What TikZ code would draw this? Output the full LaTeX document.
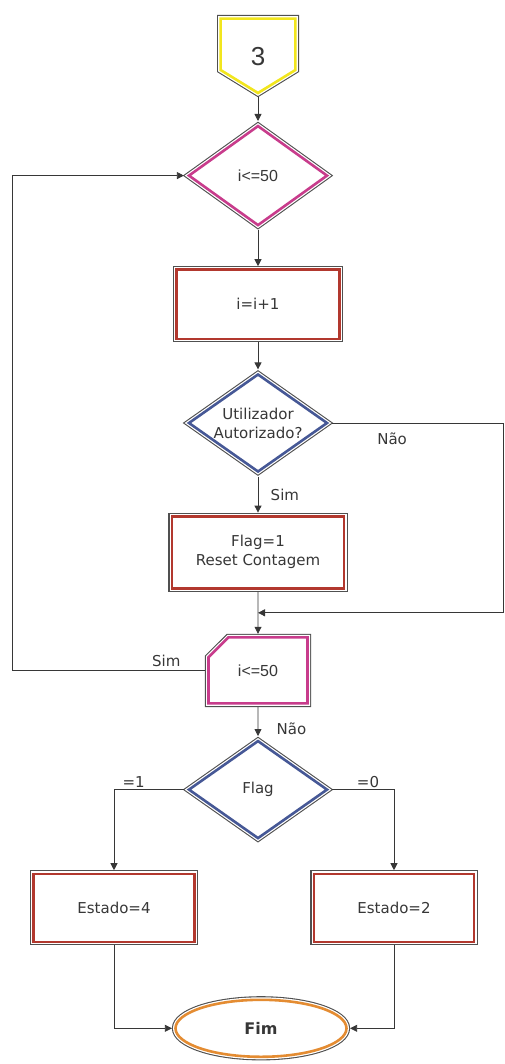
\documentclass[tikz,border=0pt]{standalone}
\usepackage{fontspec}
\setmainfont{DejaVu Sans}
\newfontfamily\arialfont{Liberation Sans}
\usetikzlibrary{arrows.meta, shapes.geometric, shapes.misc, positioning, calc}
\definecolor{fcyellow}{RGB}{242,230,30}
\definecolor{fcmagenta}{RGB}{200,60,140}
\definecolor{fcred}{RGB}{178,56,46}
\definecolor{fcblue}{RGB}{70,88,150}
\definecolor{fcorange}{RGB}{228,140,50}
\definecolor{fcedge}{RGB}{80,80,80}
\definecolor{fcline}{RGB}{55,55,55}

\begin{document}
\begin{tikzpicture}[
  x=1pt, y=1pt,
  twoline/.style={preaction={draw=fcedge, line width=7.2pt},
                  preaction={draw=white, line width=5.0pt},
                  fill=white, line width=2.6pt, outer sep=3.6pt, text=fcline},
  proc/.style={twoline, draw=fcred, rectangle, align=center, inner sep=0pt,
               font=\fontsize{15}{19}\selectfont},
  cond/.style={twoline, draw=fcblue, diamond, aspect=1.41, inner sep=0pt,
               minimum width=141pt, minimum height=100pt, align=center,
               font=\fontsize{15}{19}\selectfont},
  loopcond/.style={cond, draw=fcmagenta, minimum height=102pt,
                   font=\arialfont\fontsize{16}{16}\selectfont},
  lim/.style={twoline, draw=fcmagenta, chamfered rectangle,
              chamfered rectangle corners=north west,
              chamfered rectangle xsep=14pt, chamfered rectangle ysep=14pt,
              minimum width=99pt, minimum height=66pt, inner sep=0pt,
              font=\arialfont\fontsize{16}{16}\selectfont},
  term/.style={twoline, draw=fcorange, ellipse, inner sep=0pt,
               minimum width=171pt, minimum height=57pt,
               font=\bfseries\fontsize{16}{16}\selectfont},
  lbl/.style={font=\fontsize{15}{18}\selectfont, text=fcline},
  arr/.style={-{Triangle[length=7pt,width=7pt]}, line width=0.8pt, draw=fcline}
]
\useasboundingbox (0,0) rectangle (504,-1064);
\coordinate (startc) at (258,-57);
\draw[twoline, draw=fcyellow] ($(startc)+(-37.4,38.4)$) -- ($(startc)+(37.4,38.4)$)
  -- ($(startc)+(37.4,-13)$) -- ($(startc)+(0,-36)$) -- ($(startc)+(-37.4,-13)$) -- cycle;
\node[text=fcline, font=\arialfont\fontsize{26}{26}\selectfont] (start) at (startc) {3};
\coordinate (tip) at ($(startc)+(0,-40)$);
\node[loopcond, below=24pt of tip] (dec1) {i<=50};
\node[proc, below=36pt of dec1, minimum width=163pt, minimum height=69pt] (inc) {i=i+1};
\node[cond, below=27pt of inc] (auth) {Utilizador\\Autorizado?};
\node[proc, below=36pt of auth, minimum width=172pt, minimum height=72pt] (flag1) {Flag=1\\Reset Contagem};
\node[lim, below=42pt of flag1] (loop) {i<=50};
\node[cond, below=29pt of loop] (flagdec) {Flag};
\node[proc, below=27pt of flagdec, xshift=-144pt, minimum width=161pt, minimum height=68pt] (est4) {Estado=4};
\node[proc, below=27pt of flagdec, xshift=136pt, minimum width=160pt, minimum height=68pt] (est2) {Estado=2};
\node[term, below=153pt of flagdec, xshift=3pt] (fim) {Fim};
\coordinate (merge) at ($(flag1.south)!0.5!(loop.north)$);
\coordinate (leftrail) at (12,0);
\coordinate (rightrail) at (503.5,0);
\draw[arr] (tip) -- (dec1);
\draw[arr] (dec1) -- (inc);
\draw[arr] (inc) -- (auth);
\draw[arr] (auth) -- node[lbl, right, xshift=9pt] (simauth) {Sim} (flag1);
\draw[arr] (flag1) -- (loop);
% Nao branch runs along the right edge back into the column
\draw[arr] (auth.east) -- node[lbl, below, pos=0.35, yshift=-6pt] (naoauth) {Não}
           (auth.east -| rightrail) |- (merge);
% loop back to the first test
\draw[arr] (loop.west) -- node[lbl, above, pos=0.2] (simloop) {Sim}
           (loop.west -| leftrail) |- (dec1.west);
\draw[arr] (loop) -- node[lbl, right, pos=0.75, xshift=15pt] (naoloop) {Não} (flagdec);
\draw[arr] (flagdec.west) -| node[lbl, above, pos=0.36, yshift=-2pt] (flagone) {=1} (est4.north);
\draw[arr] (flagdec.east) -| node[lbl, above, pos=0.29, yshift=-2pt] (flagzero) {=0} (est2.north);
\draw[arr] (est4.south) |- (fim.west);
\draw[arr] (est2.south) |- (fim.east);
\end{tikzpicture}
\end{document}
